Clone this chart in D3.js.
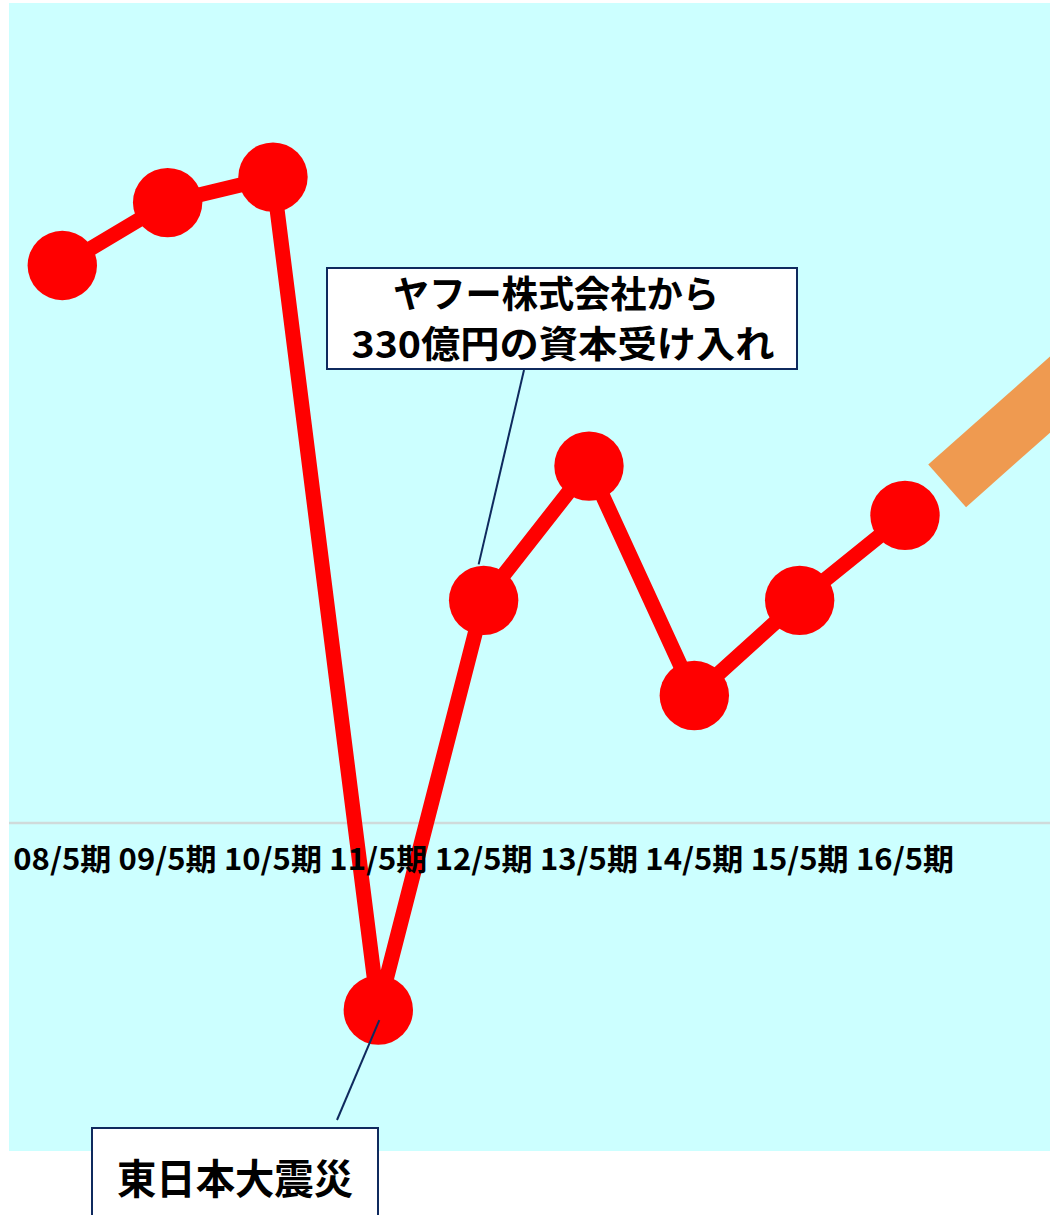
<!DOCTYPE html>
<html>
<head>
<meta charset="utf-8">
<script src="https://cdn.jsdelivr.net/npm/d3@7"></script>
<style>
  html, body { margin: 0; padding: 0; background: #ffffff; }
  svg { display: block; }
  text { font-family: "Noto Sans CJK JP", "Noto Sans", sans-serif; }
</style>
</head>
<body>
<svg id="chart" width="1050" height="1215"></svg>
<script>
// ---- data ----
const categories = ["08/5期", "09/5期", "10/5期", "11/5期", "12/5期", "13/5期", "14/5期", "15/5期", "16/5期"];
const values = [32.8, 36.5, 38.0, -11.0, 13.1, 21.0, 7.5, 13.1, 18.1];
// forecast trend (orange band): position in category-index units and value
const trendIndex = [8.40, 10.2];
const trendValues = [19.84, 29.72];
const calloutTop = ["ヤフー株式会社から", "330億円の資本受け入れ"];
const calloutBottom = ["東日本大震災"];

// ---- layout ----
const svg = d3.select("#chart");
const plot = { left: 9, top: 3, right: 1050, bottom: 1151 };

const x = d3.scalePoint().domain(categories).range([62.3, 905]);
const xIdx = d3.scaleLinear().domain([0, categories.length - 1]).range([62.3, 905]);
const y = d3.scaleLinear().domain([-19.29, 48.24]).range([plot.bottom, plot.top]);

// background
svg.append("rect")
  .attr("x", plot.left).attr("y", plot.top)
  .attr("width", plot.right - plot.left).attr("height", plot.bottom - plot.top)
  .attr("fill", "#CCFFFF");

// zero line
svg.append("line")
  .attr("x1", plot.left).attr("x2", plot.right)
  .attr("y1", y(0)).attr("y2", y(0))
  .attr("stroke", "#CFDADA").attr("stroke-width", 2.5);

// orange trend band
const clip = svg.append("clipPath").attr("id", "plotclip");
clip.append("rect").attr("x", plot.left).attr("y", plot.top)
  .attr("width", plot.right - plot.left).attr("height", plot.bottom - plot.top);
svg.append("line")
  .attr("clip-path", "url(#plotclip)")
  .attr("x1", xIdx(trendIndex[0])).attr("y1", y(trendValues[0]))
  .attr("x2", xIdx(trendIndex[1])).attr("y2", y(trendValues[1]))
  .attr("stroke", "#EF9A50").attr("stroke-width", 57).attr("stroke-linecap", "butt");

// red line
const pts = categories.map((c, i) => ({ c, v: values[i] }));
svg.append("path")
  .datum(pts)
  .attr("fill", "none")
  .attr("stroke", "#FF0000")
  .attr("stroke-width", 15)
  .attr("stroke-linejoin", "round")
  .attr("d", d3.line().x(d => x(d.c)).y(d => y(d.v)));

svg.append("g").selectAll("circle").data(pts).join("circle")
  .attr("cx", d => x(d.c)).attr("cy", d => y(d.v)).attr("r", 34.7)
  .attr("fill", "#FF0000");

// category labels (drawn above the line, as in the reference)
const xAxis = svg.append("g");
xAxis.selectAll("text").data(categories).join("text")
  .attr("x", d => x(d))
  .attr("y", 870)
  .attr("text-anchor", "middle")
  .attr("font-size", 30)
  .attr("font-weight", 700)
  .attr("fill", "#000")
  .attr("textLength", 98)
  .attr("lengthAdjust", "spacingAndGlyphs")
  .text(d => d);

// ---- callouts ----
const navy = "#0F2A5E";
// top callout (capital from Yahoo) pointing at 12/5期
const p12 = pts[4];
svg.append("line")
  .attr("x1", 524).attr("y1", 370)
  .attr("x2", x(p12.c) - 5).attr("y2", y(p12.v) - 36)
  .attr("stroke", navy).attr("stroke-width", 2);
svg.append("rect")
  .attr("x", 327).attr("y", 268).attr("width", 470).attr("height", 101)
  .attr("fill", "#FFFFFF").attr("stroke", navy).attr("stroke-width", 2);
svg.append("text")
  .attr("x", 556).attr("y", 308)
  .attr("text-anchor", "middle").attr("font-size", 37).attr("font-weight", 700)
  .attr("textLength", 326).attr("lengthAdjust", "spacingAndGlyphs")
  .text(calloutTop[0]);
svg.append("text")
  .attr("x", 563).attr("y", 358)
  .attr("text-anchor", "middle").attr("font-size", 37).attr("font-weight", 700)
  .attr("textLength", 423).attr("lengthAdjust", "spacingAndGlyphs")
  .text(calloutTop[1]);

// bottom callout (earthquake) pointing at 11/5期
const p11 = pts[3];
svg.append("line")
  .attr("x1", x(p11.c) + 1).attr("y1", y(p11.v) + 10)
  .attr("x2", 337).attr("y2", 1120)
  .attr("stroke", navy).attr("stroke-width", 2);
svg.append("rect")
  .attr("x", 92).attr("y", 1128).attr("width", 286).attr("height", 120)
  .attr("fill", "#FFFFFF").attr("stroke", navy).attr("stroke-width", 2);
svg.append("text")
  .attr("x", 235).attr("y", 1194)
  .attr("text-anchor", "middle").attr("font-size", 41).attr("font-weight", 700)
  .attr("textLength", 236).attr("lengthAdjust", "spacingAndGlyphs")
  .text(calloutBottom[0]);
</script>
</body>
</html>
